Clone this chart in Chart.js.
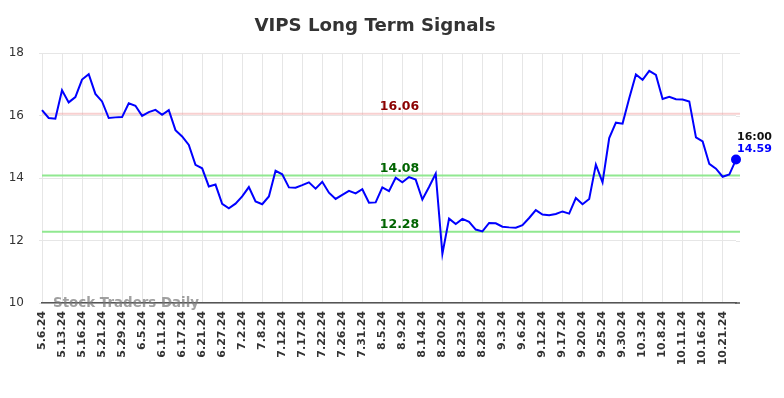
<!DOCTYPE html>
<html>
<head>
<meta charset="utf-8">
<script src="https://cdn.jsdelivr.net/npm/chart.js@4/dist/chart.umd.min.js"></script>
<style>
  html, body { margin: 0; padding: 0; background: #fff; }
  #wrap { width: 784px; height: 398px; }
</style>
</head>
<body>
<div id="wrap"><canvas id="signalChart"></canvas></div>
<script>
// VIPS closing prices, one per trading day
const dates = [
  "5.6.24", "5.8.24", "5.10.24", "5.13.24", "5.14.24", "5.15.24", "5.16.24", "5.17.24", "5.20.24",
  "5.21.24", "5.23.24", "5.28.24", "5.29.24", "5.31.24", "6.3.24", "6.5.24", "6.7.24", "6.10.24",
  "6.11.24", "6.13.24", "6.14.24", "6.17.24", "6.18.24", "6.20.24", "6.21.24", "6.24.24", "6.26.24",
  "6.27.24", "6.28.24", "7.1.24", "7.2.24", "7.3.24", "7.5.24", "7.8.24", "7.10.24", "7.11.24",
  "7.12.24", "7.15.24", "7.16.24", "7.17.24", "7.18.24", "7.19.24", "7.22.24", "7.24.24", "7.25.24",
  "7.26.24", "7.29.24", "7.30.24", "7.31.24", "8.1.24", "8.2.24", "8.5.24", "8.7.24", "8.8.24",
  "8.9.24", "8.12.24", "8.13.24", "8.14.24", "8.16.24", "8.19.24", "8.20.24", "8.21.24", "8.22.24",
  "8.23.24", "8.26.24", "8.27.24", "8.28.24", "8.29.24", "8.30.24", "9.3.24", "9.4.24", "9.5.24",
  "9.6.24", "9.10.24", "9.11.24", "9.12.24", "9.13.24", "9.16.24", "9.17.24", "9.18.24", "9.19.24",
  "9.20.24", "9.23.24", "9.24.24", "9.25.24", "9.26.24", "9.27.24", "9.30.24", "10.1.24", "10.2.24",
  "10.3.24", "10.4.24", "10.7.24", "10.8.24", "10.9.24", "10.10.24", "10.11.24", "10.14.24", "10.15.24",
  "10.16.24", "10.17.24", "10.18.24", "10.21.24", "10.22.24", "10.23.24"
];

const prices = [
  16.17, 15.92, 15.90, 16.81, 16.42, 16.59, 17.15, 17.32, 16.69,
  16.45, 15.92, 15.94, 15.95, 16.39, 16.31, 15.99, 16.11, 16.18,
  16.02, 16.17, 15.53, 15.33, 15.06, 14.42, 14.31, 13.73, 13.79,
  13.17, 13.03, 13.18, 13.41, 13.71, 13.25, 13.16, 13.41, 14.23,
  14.12, 13.70, 13.69, 13.77, 13.86, 13.66, 13.88, 13.53, 13.33,
  13.46, 13.59, 13.51, 13.64, 13.21, 13.22, 13.70, 13.58, 14.01,
  13.86, 14.03, 13.95, 13.31, 13.71, 14.14, 11.57, 12.70, 12.53,
  12.69, 12.60, 12.35, 12.29, 12.56, 12.55, 12.44, 12.42, 12.41,
  12.49, 12.72, 12.97, 12.83, 12.81, 12.85, 12.93, 12.86, 13.36,
  13.16, 13.33, 14.43, 13.86, 15.28, 15.77, 15.74, 16.55, 17.31,
  17.14, 17.43, 17.30, 16.53, 16.60, 16.52, 16.51, 16.45, 15.30,
  15.17, 14.45, 14.30, 14.04, 14.11, 14.59
];

// signal levels
const resistance = [16.06];
const supports = [14.08, 12.28];

const lastTime = "16:00";
const yTicks = [10, 12, 14, 16, 18];

const FONT = "'DejaVu Sans', sans-serif";

// horizontal signal lines + their labels
const signalLines = {
  id: "signalLines",
  beforeDatasetsDraw(chart) {
    const { ctx, chartArea, scales } = chart;
    ctx.save();
    // grid runs a few px past the last point in the original
    ctx.lineWidth = 1;
    ctx.strokeStyle = "#e6e6e6";
    yTicks.slice(1).forEach((v) => {
      const y = Math.round(scales.y.getPixelForValue(v)) + 0.5;
      ctx.beginPath();
      ctx.moveTo(chartArea.right, y);
      ctx.lineTo(chartArea.right + 4, y);
      ctx.stroke();
    });
    ctx.lineWidth = 2;
    resistance.forEach((v) => {
      const y = scales.y.getPixelForValue(v);
      ctx.strokeStyle = "rgba(240, 150, 150, 0.45)";
      ctx.beginPath();
      ctx.moveTo(chartArea.left, y);
      ctx.lineTo(chartArea.right + 4, y);
      ctx.stroke();
    });
    supports.forEach((v) => {
      const y = scales.y.getPixelForValue(v);
      ctx.strokeStyle = "#90e890";
      ctx.beginPath();
      ctx.moveTo(chartArea.left, y);
      ctx.lineTo(chartArea.right + 4, y);
      ctx.stroke();
    });
    ctx.restore();
  },
  afterDatasetsDraw(chart) {
    const { ctx, scales } = chart;
    const cx = 399.5;
    ctx.save();
    ctx.font = "bold 12.5px " + FONT;
    ctx.textAlign = "center";
    ctx.textBaseline = "alphabetic";
    resistance.forEach((v) => {
      ctx.fillStyle = "#8b0000";
      ctx.fillText(v.toFixed(2), cx, scales.y.getPixelForValue(v) - 4);
    });
    supports.forEach((v) => {
      ctx.fillStyle = "#006400";
      ctx.fillText(v.toFixed(2), cx, scales.y.getPixelForValue(v) - 4);
    });

    // last price tag
    const meta = chart.getDatasetMeta(0);
    const last = meta.data[meta.data.length - 1];
    ctx.textAlign = "left";
    ctx.font = "bold 11px " + FONT;
    ctx.fillStyle = "#111";
    ctx.fillText(lastTime, last.x + 1, last.y - 20);
    ctx.fillStyle = "blue";
    ctx.fillText(prices[prices.length - 1].toFixed(2), last.x + 1, last.y - 7.5);
    ctx.restore();
  },
  afterDraw(chart) {
    const { ctx, chartArea } = chart;
    ctx.save();
    // bottom axis line continues a little past the plot too
    ctx.strokeStyle = "#555";
    ctx.lineWidth = 1.5;
    ctx.beginPath();
    ctx.moveTo(chartArea.right - 1, chartArea.bottom);
    ctx.lineTo(chartArea.right + 4, chartArea.bottom);
    ctx.stroke();

    ctx.font = "bold 18.2px " + FONT;
    ctx.fillStyle = "#333";
    ctx.textAlign = "center";
    ctx.textBaseline = "middle";
    ctx.fillText("VIPS Long Term Signals", 375, 26);

    ctx.font = "bold 13.4px " + FONT;
    ctx.fillStyle = "rgba(120, 120, 120, 0.7)";
    ctx.textAlign = "left";
    ctx.textBaseline = "alphabetic";
    ctx.fillText("Stock Traders Daily", 53, 307);
    ctx.restore();
  },
};

new Chart(document.getElementById("signalChart"), {
  type: "line",
  data: {
    labels: dates,
    datasets: [
      {
        data: prices,
        borderColor: "blue",
        backgroundColor: "blue",
        borderWidth: 2,
        tension: 0,
        pointRadius: prices.map((_, i) => (i === prices.length - 1 ? 4 : 0)),
        pointHoverRadius: 0,
      },
    ],
  },
  options: {
    responsive: true,
    maintainAspectRatio: false,
    animation: false,
    layout: { padding: { top: 53, right: 48, left: 0, bottom: 0 } },
    plugins: {
      legend: { display: false },
      title: { display: false },
      tooltip: { enabled: false },
    },
    scales: {
      x: {
        grid: { color: "#e6e6e6", drawTicks: false },
        border: { color: "#555", width: 1.5 },
        ticks: {
          autoSkip: false,
          maxRotation: 90,
          minRotation: 90,
          padding: 8,
          color: "#333",
          font: { family: FONT, size: 11, weight: "bold" },
          callback: (val, i) => (i % 3 === 0 ? dates[i] : null),
        },
        afterFit: (scale) => { scale.height = 95; },
      },
      y: {
        min: 10,
        max: 18,
        grid: { color: "#e6e6e6", tickLength: 3 },
        border: { display: false },
        ticks: {
          stepSize: 2,
          padding: 15,
          color: "#333",
          font: { family: FONT, size: 12 },
          callback: (v) => (yTicks.includes(v) ? v : null),
        },
        afterFit: (scale) => { scale.width = 42; },
      },
    },
  },
  plugins: [signalLines],
});
</script>
</body>
</html>
